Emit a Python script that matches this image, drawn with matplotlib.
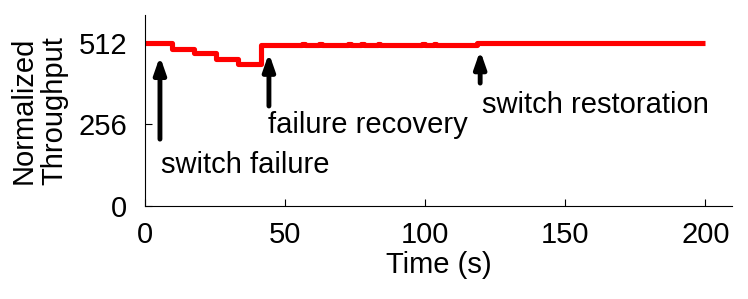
import matplotlib
matplotlib.use('Agg')
from matplotlib import pyplot as plt

plt.rcParams['font.family'] = ['Liberation Sans', 'DejaVu Sans']

# throughput trace (step changes), time in seconds
time_s = [0, 9.5, 17.3, 25.4, 33.3, 41.5, 56, 57, 62, 63, 72.5, 73.5, 77, 78,
          83, 84, 99, 100, 103, 104, 118.5, 200]
throughput = [512, 492, 480, 462, 445, 507, 509, 507, 509, 507, 509, 507, 509, 507,
              509, 507, 509, 507, 509, 507, 512, 512]

# annotations: (label, arrow x, arrow tail y, arrow tip y, text x, text y)
events = [('switch failure', 5.3, 210, 470, 5.7, 129),
          ('failure recovery', 44.2, 314, 480, 44.0, 254),
          ('switch restoration', 119.6, 386, 488, 120.2, 317)]

xticks = [0, 50, 100, 150, 200]
yticks = [0, 256, 512]

fig = plt.figure(figsize=(7.48, 2.99), dpi=100)
ax = fig.add_axes([0.194, 0.311, 0.785, 0.639])

ax.plot(time_s, throughput, color='#ff0000', linewidth=3.7, drawstyle='steps-post',
        solid_capstyle='butt')

for label, ax_x, y0, y1, tx, ty in events:
    ax.annotate('', xy=(ax_x, y1), xytext=(ax_x, y0),
                arrowprops=dict(arrowstyle='-|>,head_width=0.35,head_length=1.0',
                                color='black', lw=3.5, shrinkA=0, shrinkB=0))
    ax.text(tx, ty, label, fontsize=21, va='center', ha='left')

ax.set_xlim(0, 209.6)
ax.set_ylim(0, 600)
ax.set_xticks(xticks)
ax.set_yticks(yticks)
ax.tick_params(direction='in', length=5, labelsize=21)
ax.tick_params(axis='x', pad=11)
ax.tick_params(axis='y', pad=13)
for side in ['top', 'right']:
    ax.spines[side].set_visible(False)
ax.set_xlabel('Time (s)', fontsize=21, labelpad=1)
ax.set_ylabel('Normalized\nThroughput', fontsize=21, linespacing=1.15, labelpad=7)

fig.savefig('out.png', dpi=100)
